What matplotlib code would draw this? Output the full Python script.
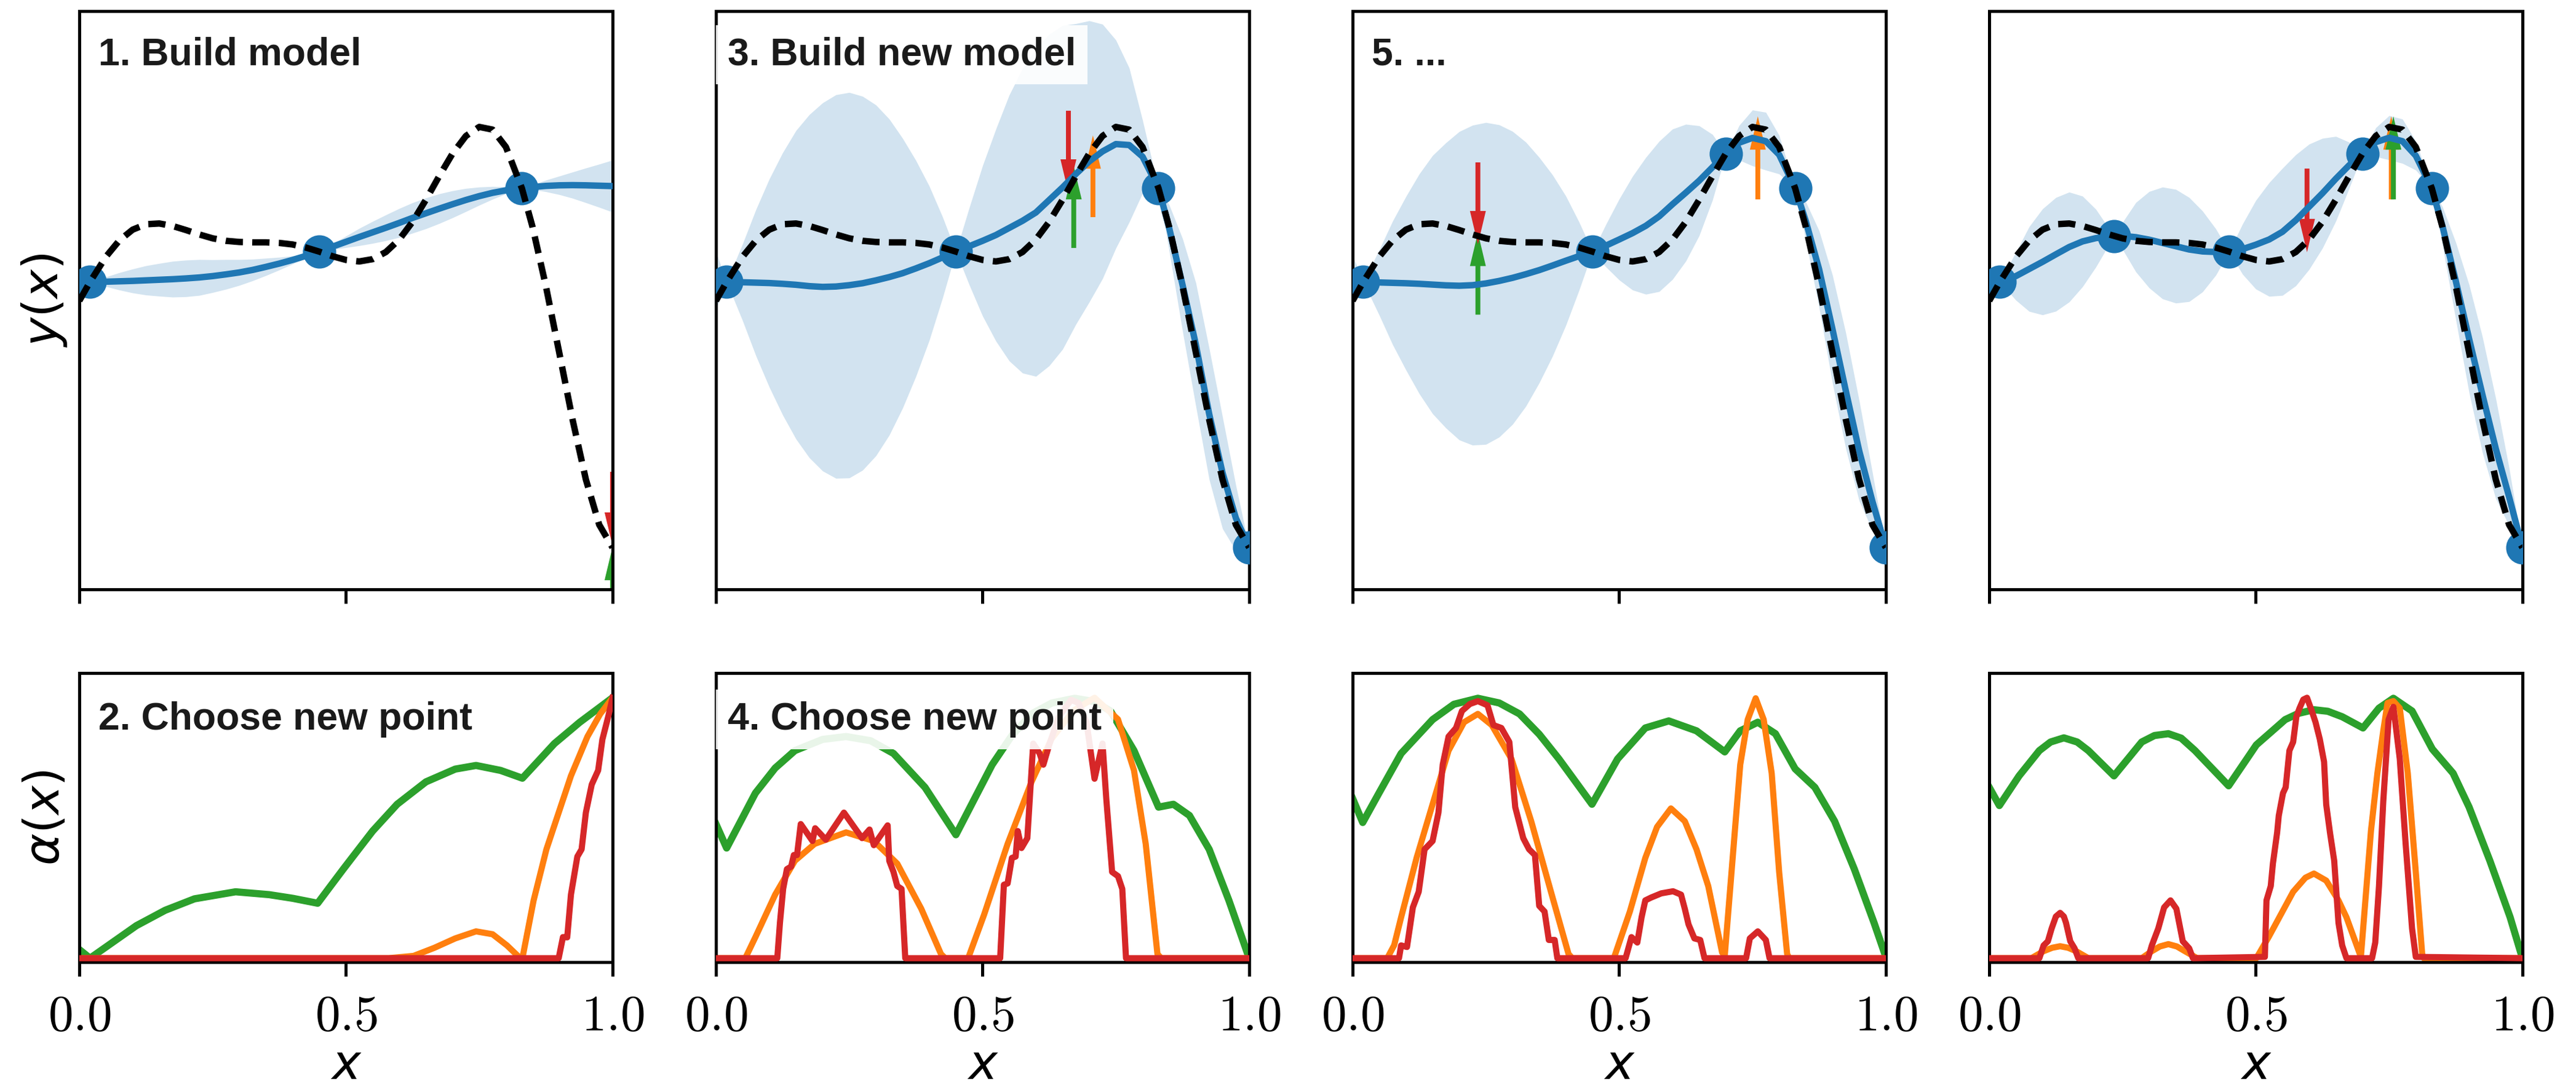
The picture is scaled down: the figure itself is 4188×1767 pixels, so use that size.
""" Bayesian optimisation loop - surrogate model and acquisition functions """
import matplotlib.pyplot as plt
from matplotlib.patches import FancyArrowPatch, ArrowStyle

BLUE = '#1f77b4'
ORANGE = '#ff7f0e'
GREEN = '#2ca02c'
RED = '#d62728'

# x grid for the top (model) panels
X_TOP = [0.0, 0.02, 0.05, 0.075, 0.1, 0.125, 0.15, 0.175, 0.2, 0.225, 0.25,
         0.275, 0.3, 0.325, 0.35, 0.375, 0.4, 0.425, 0.45, 0.475, 0.5, 0.525,
         0.55, 0.575, 0.6, 0.625, 0.65, 0.675, 0.7, 0.725, 0.75, 0.775, 0.8,
         0.83, 0.85, 0.875, 0.9, 0.925, 0.95, 0.975, 1.0]
X_TOP4 = [0.0, 0.02, 0.05, 0.075, 0.1, 0.125, 0.15, 0.175, 0.2, 0.234, 0.25,
          0.275, 0.3, 0.325, 0.35, 0.375, 0.4, 0.425, 0.45, 0.475, 0.5, 0.525,
          0.55, 0.575, 0.6, 0.625, 0.65, 0.675, 0.7, 0.725, 0.75, 0.775, 0.8,
          0.83, 0.85, 0.875, 0.9, 0.925, 0.95, 0.975, 1.0]

# true objective (dashed)
TRUTH = [-3.03, -2.05, -0.74, 0.10, 0.66, 0.94, 0.98, 0.85, 0.64, 0.41, 0.21,
         0.08, 0.02, 0.0, 0.0, -0.03, -0.11, -0.27, -0.48, -0.72, -0.91, -0.99,
         -0.87, -0.50, 0.15, 1.07, 2.21, 3.44, 4.61, 5.52, 5.99, 5.85, 4.95,
         2.81, 0.80, -2.27, -5.71, -9.19, -12.30, -14.65, -15.83]

# surrogate mean and band half width, one pair per iteration
MEAN1 = [-2.03, -2.05, -2.04, -2.02, -2.0, -1.97, -1.94, -1.91, -1.87, -1.82,
         -1.75, -1.66, -1.56, -1.43, -1.27, -1.1, -0.91, -0.7, -0.48, -0.22,
         0.03, 0.28, 0.52, 0.76, 1.01, 1.27, 1.51, 1.75, 1.98, 2.2, 2.4, 2.57,
         2.7, 2.81, 2.87, 2.93, 2.96, 2.97, 2.96, 2.94, 2.92]
SD1 = [0.35, 0.0, 0.25, 0.45, 0.62, 0.76, 0.85, 0.93, 0.95, 0.93, 0.85, 0.77,
       0.67, 0.56, 0.45, 0.33, 0.21, 0.1, 0.0, 0.15, 0.3, 0.45, 0.57, 0.67,
       0.75, 0.79, 0.8, 0.77, 0.7, 0.6, 0.47, 0.33, 0.18, 0.0, 0.12, 0.3, 0.48,
       0.68, 0.9, 1.12, 1.35]

MEAN2 = [-1.98, -2.05, -2.07, -2.09, -2.11, -2.15, -2.2, -2.27, -2.31, -2.29,
         -2.22, -2.12, -1.97, -1.8, -1.6, -1.35, -1.08, -0.78, -0.48, -0.2,
         0.08, 0.38, 0.75, 1.12, 1.55, 2.2, 2.85, 3.55, 4.2, 4.72, 5.1, 5.05,
         4.45, 2.81, 0.75, -2.2, -5.3, -8.9, -11.95, -14.3, -15.83]
SD2 = [1.5, 0.0, 2.0, 3.8, 5.4, 6.8, 8.0, 8.9, 9.55, 9.95, 10.0, 9.7, 9.1, 8.2,
       7.0, 5.6, 4.0, 2.1, 0.0, 2.0, 3.9, 5.5, 6.9, 7.9, 8.5, 8.6, 8.4, 7.8,
       7.3, 6.6, 5.4, 4.0, 1.9, 0.0, 1.2, 2.4, 3.2, 3.4, 2.9, 1.7, 0.0]

MEAN3 = [-1.98, -2.05, -2.08, -2.1, -2.12, -2.15, -2.19, -2.23, -2.25, -2.22,
         -2.13, -2.0, -1.84, -1.65, -1.44, -1.2, -0.95, -0.71, -0.48, -0.17,
         0.15, 0.48, 0.86, 1.35, 1.98, 2.58, 3.2, 3.9, 4.61, 5.17, 5.42, 5.25,
         4.55, 2.81, 1.1, -1.4, -4.5, -7.7, -10.8, -13.45, -15.83]
SD3 = [1.3, 0.0, 1.7, 3.2, 4.5, 5.7, 6.7, 7.4, 8.0, 8.3, 8.35, 8.1, 7.6, 6.85,
       5.85, 4.7, 3.35, 1.75, 0.0, 1.1, 2.1, 2.95, 3.55, 3.9, 3.9, 3.55, 2.85,
       1.7, 0.0, 0.9, 1.45, 1.5, 1.0, 0.0, 1.0, 2.0, 2.8, 3.0, 2.6, 1.5, 0.0]

MEAN4 = [-2.25, -2.05, -1.75, -1.38, -1.01, -0.62, -0.24, 0.05, 0.22, 0.33,
         0.34, 0.27, 0.14, -0.03, -0.2, -0.37, -0.47, -0.5, -0.48, -0.35,
         -0.12, 0.15, 0.55, 1.15, 1.85, 2.55, 3.3, 4.0, 4.61, 5.2, 5.43, 5.25,
         4.5, 2.81, 0.85, -2.0, -5.0, -7.9, -10.7, -13.2, -15.83]
SD4 = [0.5, 0.0, 1.25, 2.2, 2.75, 2.95, 2.85, 2.35, 1.5, 0.0, 0.7, 1.8, 2.5,
       2.9, 2.95, 2.7, 2.1, 1.2, 0.0, 1.3, 2.3, 2.95, 3.3, 3.4, 3.25, 2.85,
       2.2, 1.2, 0.0, 0.75, 1.15, 1.15, 0.75, 0.0, 1.0, 2.0, 2.8, 3.0, 2.6,
       1.5, 0.0]

# evaluated points
OBS_X1 = [0.02, 0.45, 0.83]
OBS_Y1 = [-2.05, -0.48, 2.81]
OBS_X2 = [0.02, 0.45, 0.83, 1.0]
OBS_Y2 = [-2.05, -0.48, 2.81, -15.83]
OBS_X3 = [0.02, 0.45, 0.7, 0.83, 1.0]
OBS_Y3 = [-2.05, -0.48, 4.61, 2.81, -15.83]
OBS_X4 = [0.02, 0.234, 0.45, 0.7, 0.83, 1.0]
OBS_Y4 = [-2.05, 0.33, -0.48, 4.61, 2.81, -15.83]

# proposed points: (colour, x, arrow start, arrow tip)
ARROWS1 = [(GREEN, 1.0, -20.0, -15.8), (RED, 1.0, -11.9, -15.74)]
ARROWS2 = [(ORANGE, 0.707, 1.31, 5.55), (GREEN, 0.671, -0.29, 3.96),
           (RED, 0.661, 6.83, 2.58)]
ARROWS3 = [(ORANGE, 0.76, 2.23, 6.54), (GREEN, 0.235, -3.75, 0.5),
           (RED, 0.235, 4.15, -0.10)]
ARROWS4 = [(ORANGE, 0.754, 2.23, 6.54), (GREEN, 0.758, 2.23, 6.54),
           (RED, 0.596, 3.83, -0.51)]

# acquisition functions (normalised), bottom panels
GREEN1_X = [0.0, 0.02, 0.05, 0.107, 0.161, 0.216, 0.293, 0.356, 0.4, 0.447,
            0.495, 0.55, 0.596, 0.65, 0.705, 0.744, 0.79, 0.831, 0.891, 0.938,
            1.0]
GREEN1_Y = [0.033, 0.0, 0.043, 0.125, 0.184, 0.228, 0.255, 0.244, 0.23, 0.211,
            0.342, 0.488, 0.591, 0.677, 0.726, 0.74, 0.721, 0.691, 0.824,
            0.905, 1.0]
ORANGE1_X = [0.0, 0.58, 0.627, 0.666, 0.705, 0.744, 0.775, 0.802, 0.827,
             0.831, 0.852, 0.876, 0.899, 0.922, 0.953, 0.977, 1.0]
ORANGE1_Y = [0.0, 0.0, 0.009, 0.04, 0.076, 0.103, 0.092, 0.049, 0.0, 0.0,
             0.222, 0.418, 0.559, 0.7, 0.851, 0.938, 1.0]
RED1_X = [0.0, 0.899, 0.907, 0.915, 0.922, 0.934, 0.942, 0.95, 0.961, 0.973,
          0.981, 0.992, 1.0]
RED1_Y = [0.0, 0.0, 0.081, 0.08, 0.244, 0.39, 0.418, 0.559, 0.667, 0.721,
          0.84, 0.928, 1.0]

GREEN2_X = [0.0, 0.02, 0.074, 0.111, 0.148, 0.2, 0.244, 0.29, 0.333, 0.392,
            0.45, 0.518, 0.555, 0.592, 0.63, 0.673, 0.71, 0.74, 0.784, 0.83,
            0.858, 0.888, 0.925, 0.962, 1.0]
GREEN2_Y = [0.515, 0.423, 0.634, 0.73, 0.797, 0.84, 0.851, 0.835, 0.786,
            0.656, 0.474, 0.743, 0.855, 0.938, 0.98, 0.998, 0.985, 0.949,
            0.797, 0.58, 0.591, 0.548, 0.418, 0.222, 0.0]
ORANGE2_X = [0.0, 0.055, 0.074, 0.111, 0.148, 0.185, 0.244, 0.296, 0.34,
             0.385, 0.422, 0.43, 0.473, 0.503, 0.547, 0.592, 0.629, 0.67, 0.71,
             0.754, 0.784, 0.806, 0.828, 0.835, 1.0]
ORANGE2_Y = [0.0, 0.0, 0.081, 0.244, 0.374, 0.439, 0.483, 0.45, 0.363, 0.19,
             0.016, 0.0, 0.0, 0.168, 0.439, 0.678, 0.841, 0.95, 1.0, 0.917,
             0.721, 0.439, 0.016, 0.0, 0.0]
RED2_X = [0.0, 0.115, 0.12, 0.126, 0.133, 0.141, 0.146, 0.152, 0.159, 0.181,
          0.186, 0.206, 0.222, 0.24, 0.259, 0.274, 0.288, 0.296, 0.322, 0.325,
          0.333, 0.34, 0.348, 0.355, 0.533, 0.54, 0.547, 0.555, 0.562, 0.566,
          0.573, 0.584, 0.595, 0.607, 0.614, 0.625, 0.643, 0.666, 0.68, 0.695,
          0.71, 0.725, 0.732, 0.743, 0.754, 0.762, 0.769, 1.0]
RED2_Y = [0.0, 0.0, 0.136, 0.266, 0.342, 0.352, 0.396, 0.396, 0.515, 0.45,
          0.499, 0.455, 0.504, 0.559, 0.504, 0.461, 0.494, 0.434, 0.51, 0.374,
          0.331, 0.277, 0.266, 0.0, 0.0, 0.282, 0.287, 0.385, 0.39, 0.488,
          0.423, 0.461, 0.824, 0.786, 0.743, 0.819, 0.927, 0.992, 0.98, 0.906,
          0.689, 0.824, 0.613, 0.331, 0.315, 0.266, 0.0, 0.0]

GREEN3_X = [0.0, 0.019, 0.05, 0.091, 0.15, 0.19, 0.235, 0.275, 0.313, 0.35,
            0.387, 0.449, 0.497, 0.549, 0.593, 0.645, 0.698, 0.727, 0.76,
            0.793, 0.83, 0.867, 0.904, 0.941, 0.978, 1.0]
GREEN3_Y = [0.613, 0.521, 0.636, 0.786, 0.916, 0.975, 0.998, 0.98, 0.938,
            0.86, 0.765, 0.591, 0.765, 0.884, 0.911, 0.873, 0.792, 0.873,
            0.906, 0.862, 0.727, 0.656, 0.526, 0.342, 0.136, 0.005]
ORANGE3_X = [0.0, 0.065, 0.078, 0.091, 0.12, 0.15, 0.18, 0.209, 0.235, 0.261,
             0.298, 0.335, 0.372, 0.405, 0.412, 0.49, 0.52, 0.549, 0.571,
             0.597, 0.623, 0.645, 0.667, 0.693, 0.698, 0.727, 0.741, 0.756,
             0.771, 0.786, 0.8, 0.815, 0.819, 1.0]
ORANGE3_Y = [0.0, 0.0, 0.05, 0.157, 0.385, 0.591, 0.797, 0.906, 0.938, 0.895,
             0.765, 0.526, 0.255, 0.016, 0.0, 0.0, 0.179, 0.385, 0.504, 0.575,
             0.526, 0.418, 0.277, 0.022, 0.01, 0.743, 0.916, 0.998, 0.916,
             0.71, 0.331, 0.016, 0.0, 0.0]
RED3_X = [0.0, 0.087, 0.091, 0.102, 0.113, 0.124, 0.135, 0.15, 0.161, 0.169,
          0.18, 0.194, 0.205, 0.22, 0.235, 0.253, 0.264, 0.279, 0.294, 0.305,
          0.32, 0.331, 0.342, 0.35, 0.36, 0.368, 0.379, 0.384, 0.512, 0.523,
          0.534, 0.542, 0.549, 0.56, 0.579, 0.601, 0.616, 0.623, 0.63, 0.641,
          0.652, 0.66, 0.738, 0.745, 0.76, 0.775, 0.782, 1.0]
RED3_Y = [0.0, 0.0, 0.049, 0.043, 0.195, 0.255, 0.418, 0.45, 0.559, 0.743,
          0.851, 0.884, 0.949, 0.976, 0.987, 0.971, 0.895, 0.884, 0.83, 0.58,
          0.461, 0.418, 0.396, 0.201, 0.179, 0.07, 0.07, 0.0, 0.0, 0.081,
          0.06, 0.157, 0.222, 0.233, 0.249, 0.257, 0.244, 0.19, 0.13, 0.076,
          0.07, 0.0, 0.0, 0.076, 0.103, 0.07, 0.0, 0.0]

GREEN4_X = [0.0, 0.019, 0.056, 0.094, 0.115, 0.14, 0.165, 0.186, 0.234, 0.286,
            0.31, 0.336, 0.36, 0.386, 0.449, 0.501, 0.555, 0.58, 0.609, 0.635,
            0.662, 0.701, 0.731, 0.758, 0.793, 0.831, 0.87, 0.9, 0.939, 0.977,
            1.0]
GREEN4_Y = [0.656, 0.586, 0.7, 0.797, 0.83, 0.846, 0.83, 0.797, 0.7, 0.83,
            0.855, 0.862, 0.845, 0.797, 0.662, 0.819, 0.916, 0.94, 0.954,
            0.948, 0.927, 0.884, 0.96, 0.998, 0.949, 0.803, 0.71, 0.58, 0.374,
            0.157, 0.0]
ORANGE4_X = [0.0, 0.079, 0.102, 0.118, 0.133, 0.148, 0.163, 0.186, 0.286,
             0.305, 0.32, 0.336, 0.352, 0.367, 0.39, 0.501, 0.524, 0.547, 0.57,
             0.593, 0.609, 0.632, 0.655, 0.67, 0.697, 0.716, 0.728, 0.739,
             0.747, 0.758, 0.77, 0.785, 0.8, 0.812, 0.815, 1.0]
ORANGE4_Y = [0.0, 0.0, 0.027, 0.04, 0.046, 0.04, 0.027, 0.0, 0.0, 0.027,
             0.045, 0.054, 0.045, 0.027, 0.0, 0.0, 0.081, 0.168, 0.255, 0.309,
             0.325, 0.298, 0.222, 0.157, 0.005, 0.49, 0.71, 0.873, 0.98, 0.987,
             0.96, 0.71, 0.331, 0.016, 0.0, 0.0]
RED4_X = [0.0, 0.094, 0.102, 0.11, 0.117, 0.125, 0.133, 0.14, 0.144, 0.152,
          0.16, 0.167, 0.298, 0.305, 0.317, 0.328, 0.34, 0.351, 0.363, 0.375,
          0.382, 0.517, 0.52, 0.528, 0.532, 0.54, 0.543, 0.551, 0.556, 0.563,
          0.57, 0.576, 0.582, 0.589, 0.596, 0.605, 0.612, 0.62, 0.628, 0.632,
          0.639, 0.647, 0.655, 0.662, 0.67, 0.718, 0.724, 0.731, 0.739, 0.749,
          0.758, 0.77, 0.781, 0.793, 0.8, 1.0]
RED4_Y = [0.0, 0.0, 0.049, 0.065, 0.114, 0.16, 0.174, 0.16, 0.136, 0.065,
          0.038, 0.0, 0.0, 0.049, 0.114, 0.195, 0.222, 0.19, 0.065, 0.038,
          0.0, 0.005, 0.222, 0.277, 0.363, 0.483, 0.547, 0.634, 0.656, 0.797,
          0.83, 0.927, 0.96, 0.993, 1.0, 0.949, 0.906, 0.841, 0.754, 0.59,
          0.483, 0.374, 0.136, 0.049, 0.0, 0.0, 0.06, 0.277, 0.602, 0.916,
          0.965, 0.765, 0.439, 0.114, 0.005, 0.0]

TOP_PANELS = [
    ('1. Build model', X_TOP, MEAN1, SD1, OBS_X1, OBS_Y1, ARROWS1, False),
    ('3. Build new model', X_TOP, MEAN2, SD2, OBS_X2, OBS_Y2, ARROWS2, True),
    ('5. ...', X_TOP, MEAN3, SD3, OBS_X3, OBS_Y3, ARROWS3, False),
    ('', X_TOP4, MEAN4, SD4, OBS_X4, OBS_Y4, ARROWS4, False),
]
BOTTOM_PANELS = [
    ('2. Choose new point', GREEN1_X, GREEN1_Y, ORANGE1_X, ORANGE1_Y,
     RED1_X, RED1_Y, False),
    ('4. Choose new point', GREEN2_X, GREEN2_Y, ORANGE2_X, ORANGE2_Y,
     RED2_X, RED2_Y, True),
    ('', GREEN3_X, GREEN3_Y, ORANGE3_X, ORANGE3_Y, RED3_X, RED3_Y, False),
    ('', GREEN4_X, GREEN4_Y, ORANGE4_X, ORANGE4_Y, RED4_X, RED4_Y, False),
]


def style_axis(ax, labels):
    """Frame, ticks and tick labels shared by all panels"""
    for spine in ax.spines.values():
        spine.set_linewidth(1.2)
    ax.set_xlim(0, 1)
    ax.set_yticks([])
    ax.set_xticks([0, 0.5, 1.0])
    if labels:
        ax.set_xticklabels(['$0.0$', '$0.5$', '$1.0$'])
        for lab in ax.get_xticklabels():
            lab.set_math_fontfamily('cm')   # serif digits on the x axis
    else:
        ax.set_xticklabels([])
    ax.tick_params(axis='x', length=5.5, width=1.2, labelsize=19.5, pad=6.5)


def set_label(ax, which, text):
    """Axis label in sans-serif math"""
    if which == 'x':
        lab = ax.set_xlabel(text, fontsize=19, labelpad=0.5)
    else:
        lab = ax.set_ylabel(text, fontsize=19, labelpad=4)
    lab.set_math_fontfamily('dejavusans')


def add_title(ax, text, boxed, drop):
    """Bold step label in the upper left corner"""
    if not text:
        return
    if boxed:
        ax.annotate(text, xy=(0, 1), xycoords='axes fraction',
                    xytext=(4.6, -drop), textcoords='offset points',
                    ha='left', va='top', fontsize=15, fontweight='bold',
                    family='Liberation Sans', color='#1a1a1a', zorder=10,
                    bbox=dict(boxstyle='square,pad=0.3', fc='white',
                              ec='none', alpha=0.9))
    else:
        ax.annotate(text, xy=(0, 1), xycoords='axes fraction',
                    xytext=(7.4, -drop), textcoords='offset points',
                    ha='left', va='top', fontsize=15, fontweight='bold',
                    family='Liberation Sans', color='#1a1a1a', zorder=10)


fig = plt.figure(figsize=(13.96, 5.89), dpi=300)
gs = fig.add_gridspec(2, 4, height_ratios=[2, 1], left=0.0308, right=0.9792,
                      bottom=0.1149, top=0.9898, hspace=0.193, wspace=0.194)

for col, panel in enumerate(TOP_PANELS):
    title, xs, mean, sd, obs_x, obs_y, arrows, boxed = panel
    ax = fig.add_subplot(gs[0, col])
    lower = [m - s for m, s in zip(mean, sd)]
    upper = [m + s for m, s in zip(mean, sd)]
    ax.fill_between(xs, lower, upper, color=BLUE, alpha=0.2, lw=0, zorder=1)
    for colour, xa, y_from, y_to in arrows:
        arrow = FancyArrowPatch((xa, y_from), (xa, y_to),
                                arrowstyle=ArrowStyle.Simple(head_length=13,
                                                             head_width=6.2,
                                                             tail_width=1.9),
                                color=colour, lw=0, shrinkA=0, shrinkB=0,
                                zorder=2)
        ax.add_patch(arrow)
    ax.plot(xs, mean, color=BLUE, lw=2.5, zorder=3)
    ax.plot(obs_x, obs_y, 'o', color=BLUE, ms=12, zorder=4)
    ax.plot(X_TOP, TRUTH, color='k', lw=2.5, dashes=(2.7, 1.45), zorder=5)
    ax.set_ylim(-18, 12)
    style_axis(ax, False)
    if col == 0:
        set_label(ax, 'y', '$y(x)$')
    add_title(ax, title, boxed, 10)

for col, panel in enumerate(BOTTOM_PANELS):
    title, gx, gy, ox, oy, rx, ry, boxed = panel
    ax = fig.add_subplot(gs[1, col])
    ax.plot(gx, gy, color=GREEN, lw=2.8, zorder=1)
    ax.plot(ox, oy, color=ORANGE, lw=2.4, zorder=2)
    ax.plot(rx, ry, color=RED, lw=2.4, zorder=3)
    ax.set_ylim(-0.015, 1.095)
    style_axis(ax, True)
    set_label(ax, 'x', '$x$')
    if col == 0:
        set_label(ax, 'y', r'$\alpha(x)$')
    add_title(ax, title, boxed, 11)

fig.savefig('out.png', dpi=300)
